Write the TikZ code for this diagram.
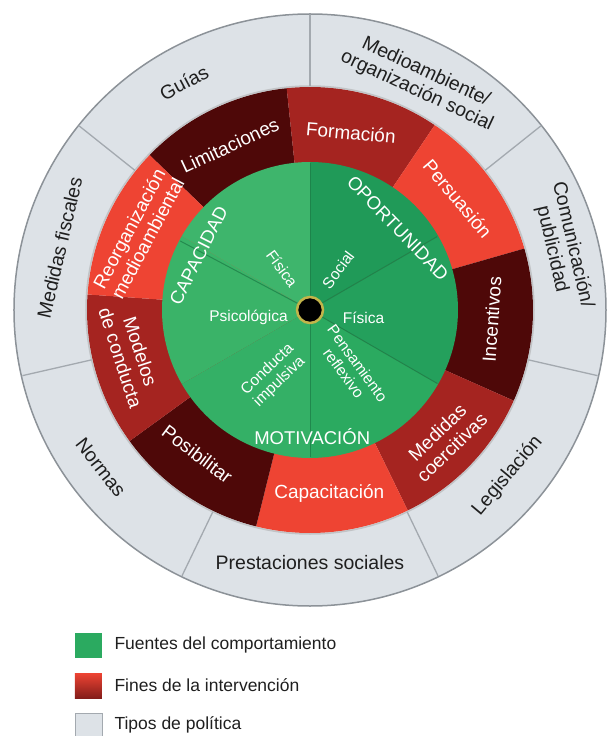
\documentclass[tikz,border=0pt]{standalone}
\usepackage{fontspec}
\setmainfont{Liberation Sans}
\definecolor{grisAnillo}{HTML}{DDE2E7}
\definecolor{bordeGris}{HTML}{8C9298}
\definecolor{lineaGris}{HTML}{A3A9AF}
\definecolor{finClaro}{HTML}{EE4433}
\definecolor{finMedio}{HTML}{A52420}
\definecolor{finOscuro}{HTML}{4E0808}
\definecolor{verdeFisCap}{HTML}{3EB56C}
\definecolor{verdePsico}{HTML}{3AB368}
\definecolor{verdeImpul}{HTML}{34B066}
\definecolor{verdeReflex}{HTML}{2BAA60}
\definecolor{verdeFisOp}{HTML}{24A05C}
\definecolor{verdeSocial}{HTML}{209A58}
\definecolor{lineaVerde}{HTML}{1B7A45}
\definecolor{anilloCentro}{HTML}{C2B44A}
\tikzset{
  politica/.style={text=black!88, font=\fontsize{19.5}{21}\selectfont, align=center},
  fin/.style={text=white, font=\fontsize{19}{21}\selectfont, align=center},
  componente/.style={text=white, font=\fontsize{18.5}{20}\selectfont},
  fuente/.style={text=white, font=\fontsize{15.5}{17}\selectfont, align=center},
  divisor/.style={draw=lineaGris, line width=1.3pt},
  radio/.style={draw=lineaVerde, line width=1pt, opacity=0.7},
  leyenda/.style={anchor=west, text=black!88, font=\fontsize{17.5}{20}\selectfont},
}

\begin{document}
\begin{tikzpicture}[x=1pt,y=1pt]

\useasboundingbox (-310,-426) rectangle (300,310);

% tipos de politica
\draw[fill=grisAnillo, draw=bordeGris, line width=1.5pt] (0,0) circle[radius=296pt];

% fines de la intervencion
\fill[finOscuro] (0,0) -- (96:223) arc[start angle=96, end angle=136, radius=223pt] -- cycle;
\fill[finMedio] (0,0) -- (56:223) arc[start angle=56, end angle=96, radius=223pt] -- cycle;
\fill[finClaro] (0,0) -- (16:223) arc[start angle=16, end angle=56, radius=223pt] -- cycle;
\fill[finOscuro] (0,0) -- (-24:223) arc[start angle=-24, end angle=16, radius=223pt] -- cycle;
\fill[finMedio] (0,0) -- (-64:223) arc[start angle=-64, end angle=-24, radius=223pt] -- cycle;
\fill[finClaro] (0,0) -- (-104:223) arc[start angle=-104, end angle=-64, radius=223pt] -- cycle;
\fill[finOscuro] (0,0) -- (-144:223) arc[start angle=-144, end angle=-104, radius=223pt] -- cycle;
\fill[finMedio] (0,0) -- (176:223) arc[start angle=176, end angle=216, radius=223pt] -- cycle;
\fill[finClaro] (0,0) -- (136:223) arc[start angle=136, end angle=176, radius=223pt] -- cycle;
\draw[black!35, line width=1.5pt, opacity=0.5] (0,0) circle[radius=224pt];

\draw[divisor] (90:224) -- (90:295);
\draw[divisor] (38.57:224) -- (38.57:295);
\draw[divisor] (-12.86:224) -- (-12.86:295);
\draw[divisor] (-64.29:224) -- (-64.29:295);
\draw[divisor] (-115.71:224) -- (-115.71:295);
\draw[divisor] (-167.14:224) -- (-167.14:295);
\draw[divisor] (141.43:224) -- (141.43:295);

% fuentes del comportamiento
\fill[verdeSocial] (0,0) -- (30:148) arc[start angle=30, end angle=90, radius=148pt] -- cycle;
\fill[verdeFisOp] (0,0) -- (-30:148) arc[start angle=-30, end angle=30, radius=148pt] -- cycle;
\fill[verdeReflex] (0,0) -- (-90:148) arc[start angle=-90, end angle=-30, radius=148pt] -- cycle;
\fill[verdeImpul] (0,0) -- (-150:148) arc[start angle=-150, end angle=-90, radius=148pt] -- cycle;
\fill[verdePsico] (0,0) -- (150:148) arc[start angle=150, end angle=210, radius=148pt] -- cycle;
\fill[verdeFisCap] (0,0) -- (90:148) arc[start angle=90, end angle=150, radius=148pt] -- cycle;

\draw[radio] (0,0) -- (90:147);
\draw[radio] (0,0) -- (30:147);
\draw[radio] (0,0) -- (-30:147);
\draw[radio] (0,0) -- (-90:147);
\draw[radio] (0,0) -- (152:147);

\draw[fill=black, draw=anilloCentro, line width=2.5pt] (0,0) circle[radius=13pt];

% textos del anillo exterior
\node[politica, rotate=-25] (medioambiente) at (64:254) {Medioambiente/\\organización social};
\node[politica, rotate=-77] (comunicacion) at (14:260) {Comunicación/\\publicidad};
\node[politica, rotate=50] (legislacion) at (-40:258) {Legislación};
\node[politica] (prestaciones) at (-90:253) {Prestaciones sociales};
\node[politica, rotate=-52] (normas) at (-143:262) {Normas};
\node[politica, rotate=77] (fiscales) at (166:258) {Medidas fiscales};
\node[politica, rotate=28] (guias) at (119:260) {Guías};

% textos de los fines
\node[fin, rotate=25] (limitaciones) at (116:183) {Limitaciones};
\node[fin, rotate=-5] (formacion) at (77:182) {Formación};
\node[fin, rotate=-50] (persuasion) at (37:185) {Persuasión};
\node[fin, rotate=86] (incentivos) at (-3:182) {Incentivos};
\node[fin, rotate=44] (coercitivas) at (-44:187) {Medidas\\coercitivas};
\node[fin] (capacitacion) at (-84:184) {Capacitación};
\node[fin, rotate=-37] (posibilitar) at (-128:183) {Posibilitar};
\node[fin, rotate=-72] (modelos) at (-166:185) {Modelos\\de conducta};
\node[fin, rotate=62] (reorganizacion) at (156:188) {Reorganización\\medioambiental};

% componentes
\node[componente, rotate=63] (capacidad) at (154:124) {CAPACIDAD};
\node[componente, rotate=-46] (oportunidad) at (43:120) {OPORTUNIDAD};
\node[componente] (motivacion) at (-89:127) {MOTIVACIÓN};

\node[fuente, rotate=-54] (fisicaCap) at (124:50) {Física};
\node[fuente, rotate=53] (social) at (55:49) {Social};
\node[fuente] (fisicaOp) at (-8:54) {Física};
\node[fuente] (psicologica) at (-173:62) {Psicológica};
\node[fuente, rotate=44] (impulsiva) at (-119:75) {Conducta\\impulsiva};
\node[fuente, rotate=-54] (reflexiva) at (-55:71) {Pensamiento\\reflexivo};

% leyenda
\fill[verdeReflex] (-235,-323) rectangle (-208,-348);
\shade[top color=finClaro, bottom color=finMedio!80!black] (-235,-363) rectangle (-208,-388);
\draw[fill=grisAnillo, draw=lineaGris] (-235,-403) rectangle (-208,-428);

\node[leyenda] (leyendaFuentes) at (-199,-335) {Fuentes del comportamiento};
\node[leyenda] (leyendaFines) at (-199,-375) {Fines de la intervención};
\node[leyenda] (leyendaTipos) at (-199,-415) {Tipos de política};

\end{tikzpicture}
\end{document}
